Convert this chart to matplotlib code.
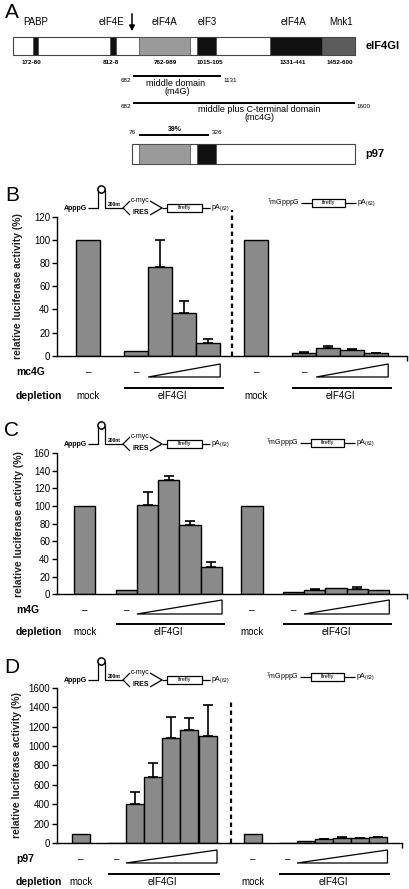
import matplotlib
matplotlib.use("Agg")
import matplotlib.pyplot as plt
from matplotlib.patches import Rectangle, Circle, Polygon
from matplotlib.transforms import blended_transform_factory
import numpy as np

plt.rcParams['font.family'] = ['Liberation Sans', 'DejaVu Sans']
plt.rcParams['mathtext.fontset'] = 'custom'
plt.rcParams['mathtext.rm'] = 'Liberation Sans'
plt.rcParams['mathtext.bf'] = 'Liberation Sans:bold'

W, H = 410, 889
GRAY = '#8a8a8a'

# ---- panel A: domain map ----
domain_names = ["PABP", "eIF4E", "eIF4A", "eIF3", "eIF4A", "Mnk1"]
domain_res = ["172-80", "812-8", "762-989", "1015-105", "1331-441", "1452-600"]

# ---- panel B: mc4G add-back ----
b_depl = ["mock", "eIF4GI", "mock", "eIF4GI"]
b_vals = [100, 4, 77, 37, 11, 100, 2.5, 7, 4.5, 2]
b_errtop = [0, 0, 100, 47, 14.5, 0, 3.2, 8.2, 5.5, 2.6]

# ---- panel C: m4G add-back ----
c_depl = ["mock", "eIF4GI", "mock", "eIF4GI"]
c_vals = [100, 5, 101, 129, 79, 31, 100, 3, 4.5, 7, 6.5, 4.5]
c_errtop = [0, 0, 116, 134, 83, 37, 0, 0, 5.6, 0, 8, 0]

# ---- panel D: p97 add-back ----
d_depl = ["mock", "eIF4GI", "mock", "eIF4GI"]
d_vals = [100, 5, 400, 680, 1085, 1160, 1100, 100, 2, 25, 40, 57, 55, 62]
d_errtop = [0, 0, 530, 830, 1300, 1290, 1420, 0, 0, 0, 45, 61, 58, 68]

fig = plt.figure(figsize=(W / 100, H / 100), dpi=100)
fig.patch.set_facecolor('white')

# overlay in pixel coords (y down) for schematic drawings and labels
ov = fig.add_axes([0, 0, 1, 1], zorder=5)
ov.set_xlim(0, W)
ov.set_ylim(H, 0)
ov.axis('off')
ov.patch.set_alpha(0)

LW = 0.9


def line(xs, ys, lw=LW, **kw):
    ov.plot(xs, ys, color='k', lw=lw, solid_capstyle='butt', **kw)


# ---------------- panel A ----------------
ov.text(12, 12.5, "A", fontsize=15, ha='center', va='center')
name_x = [36, 112, 165, 207, 294, 341]
res_x = [31, 111, 165, 210, 293, 340]
for nm, x in zip(domain_names, name_x):
    ov.text(x, 22, nm, fontsize=7, ha='center', va='center')
for rs, x in zip(domain_res, res_x):
    ov.text(x, 62, rs, fontsize=4.5, fontweight='bold', ha='center', va='center')

ov.add_patch(Rectangle((13, 37), 342, 18, fc='white', ec='#444444', lw=0.8))
for x0, x1, c in [(33, 38, '#111111'), (110, 116, '#111111'), (139, 190, '#9a9a9a'),
                  (197, 216, '#111111'), (270, 322, '#111111'), (322, 355, '#5c5c5c')]:
    ov.add_patch(Rectangle((x0, 37), x1 - x0, 18, fc=c, ec='#444444', lw=0.5))
ov.annotate('', xy=(132, 34), xytext=(132, 11),
            arrowprops=dict(arrowstyle='-|>', color='k', lw=1.1, mutation_scale=8))
ov.text(366, 46, "eIF4GI", fontsize=8, fontweight='bold', ha='left', va='center')

line([133, 221], [76, 76], lw=1.4)
ov.text(131, 80, "682", fontsize=4.5, ha='right', va='center')
ov.text(223, 80, "1131", fontsize=4.5, ha='left', va='center')
ov.text(176, 83, "middle domain", fontsize=6.5, ha='center', va='center')
ov.text(177, 91, "(m4G)", fontsize=6.5, ha='center', va='center')

line([133, 355], [103, 103], lw=1.4)
ov.text(131, 107, "682", fontsize=4.5, ha='right', va='center')
ov.text(356, 107, "1600", fontsize=4.5, ha='left', va='center')
ov.text(259, 110, "middle plus C-terminal domain", fontsize=6.5, ha='center', va='center')
ov.text(260, 118, "(mc4G)", fontsize=6.5, ha='center', va='center')

line([139, 209], [135, 135], lw=1.4)
ov.text(136, 132, "76", fontsize=4.5, ha='right', va='center')
ov.text(175, 129.5, "39%", fontsize=5, fontweight='bold', ha='center', va='center')
ov.text(212, 132, "326", fontsize=4.5, ha='left', va='center')

ov.add_patch(Rectangle((132, 144), 223, 20, fc='white', ec='#444444', lw=0.8))
ov.add_patch(Rectangle((139, 144), 51, 20, fc='#9a9a9a', ec='#444444', lw=0.5))
ov.add_patch(Rectangle((197, 144), 19, 20, fc='#111111', ec='#444444', lw=0.5))
ov.text(365, 154, "p97", fontsize=8, fontweight='bold', ha='left', va='center')


# ---------------- constructs ----------------
def ires_construct(x0, y0):
    ov.text(x0 - 1, y0, "ApppG", fontsize=5, fontweight='bold', ha='right', va='center')
    line([x0, x0 + 10, x0 + 10], [y0, y0, y0 - 18])
    ov.add_patch(Circle((x0 + 13.5, y0 - 18.5), 3.6, fill=False, lw=1.1))
    line([x0 + 17, x0 + 17, x0 + 35], [y0 - 18, y0, y0])
    ov.text(x0 + 26, y0 - 3.2, "200nt", fontsize=3.5, fontweight='bold', ha='center', va='center')
    line([x0 + 42, x0 + 35, x0 + 42], [y0 - 7, y0, y0 + 7])
    ov.text(x0 + 42.5, y0 - 7, "c-myc", fontsize=5, ha='left', va='center')
    ov.text(x0 + 53, y0 + 4.5, "IRES", fontsize=5, fontweight='bold', ha='center', va='center')
    line([x0 + 62, x0 + 74, x0 + 62], [y0 - 7, y0, y0 + 7])
    line([x0 + 74, x0 + 79], [y0, y0])
    ov.add_patch(Rectangle((x0 + 79, y0 - 4), 35, 7.5, fill=False, lw=0.9))
    ov.text(x0 + 96.5, y0 - 0.3, "firefly", fontsize=4, ha='center', va='center')
    line([x0 + 114, x0 + 122], [y0, y0])
    ov.text(x0 + 123, y0, r"pA$_{(62)}$", fontsize=5, ha='left', va='center')


def cap_construct(x1, y1):
    ov.text(x1, y1, r"$^{7}$mGpppG", fontsize=5, ha='right', va='center')
    line([x1 + 1, x1 + 12], [y1, y1])
    ov.add_patch(Rectangle((x1 + 12, y1 - 3.7), 33, 7.4, fill=False, lw=0.9))
    ov.text(x1 + 28.5, y1 - 0.3, "firefly", fontsize=4, ha='center', va='center')
    line([x1 + 45, x1 + 56], [y1, y1])
    ov.text(x1 + 57, y1, r"pA$_{(62)}$", fontsize=5, ha='left', va='center')


# ---------------- bar panels ----------------
def bar_panel(letter, letter_y, px, ymax, ystep, slot_w, slots, vals, errtop,
              row_name, depl, rows_y, sep_top=None, ylab_x=22):
    l, r, y0 = px
    ytop = y0 - ymax * slot_w[1]
    ax = fig.add_axes([l / W, 1 - y0 / H, (r - l) / W, (y0 - ytop) / H])
    xmax = (r - l) / slot_w[0]
    slots = np.array(slots)
    ax.bar(slots, vals, width=1.0, color=GRAY, edgecolor='k', linewidth=1.0, zorder=2)
    vals_a = np.array(vals, float)
    et = np.array(errtop, float)
    m = et > vals_a
    ax.errorbar(slots[m], vals_a[m], yerr=[np.zeros(m.sum()), et[m] - vals_a[m]],
                fmt='none', ecolor='k', elinewidth=1.2, capsize=3.6, capthick=1.2, zorder=3)
    ax.set_xlim(0, xmax)
    ax.set_ylim(0, ymax)
    ax.set_yticks(np.arange(0, ymax + 1, ystep))
    ax.set_xticks([xmax])
    ax.set_xticklabels([])
    for s in ['top', 'right']:
        ax.spines[s].set_visible(False)
    for s in ['left', 'bottom']:
        ax.spines[s].set_linewidth(1.0)
    ax.tick_params(axis='y', direction='out', length=3.5, width=1, labelsize=7, pad=1.5)
    ax.tick_params(axis='x', direction='out', length=3.5, width=1)
    ax.set_ylabel("relative luciferase activity (%)", fontsize=7.5, fontweight='bold',
                  color='#222222')
    ax.yaxis.set_label_coords((ylab_x - l) / (r - l), 0.5)
    ax.patch.set_alpha(0)

    ov.text(12, letter_y, letter, fontsize=15, ha='center', va='center')

    # separator between IRES and cap reporters
    n = (len(slots) - 2) // 2
    g1 = slots[1:2 + n - 1]
    g1 = slots[1:1 + n]
    g2 = slots[2 + n:]
    mock1, mock2 = slots[0], slots[1 + n]
    if sep_top is not None:
        xs = (g1[-1] + mock2) / 2
        ax.plot([xs, xs], [0, sep_top], color='k', lw=1.6, ls=(0, (2, 1.6)),
                clip_on=False, zorder=1)

    tr = blended_transform_factory(ax.transData, ov.transData)
    y_row, tri_bot, tri_top, y_line, y_dep = rows_y
    ov.text(16, y_row, row_name, fontsize=7.5, fontweight='bold', ha='left', va='center')
    ov.text(16, y_dep, "depletion", fontsize=7.5, fontweight='bold', ha='left', va='center')
    for x in [mock1, g1[0], mock2, g2[0]]:
        ov.text(x, y_row, "\u2013", fontsize=7, ha='center', va='center', transform=tr)
    for g in [g1, g2]:
        a, b = g[1] - 0.5, g[-1] + 0.5
        ov.add_patch(Polygon([[a, tri_bot], [b, tri_bot], [b, tri_top]], closed=True,
                             fill=False, ec='k', lw=0.9, transform=tr))
        ov.plot([g[0] - 0.45, g[-1] + 0.6], [y_line, y_line], color='k', lw=1.4,
                transform=tr)
    for x, lab in zip([mock1, g1.mean(), mock2, g2.mean()], depl):
        ov.text(x, y_dep, lab, fontsize=7, ha='center', va='center', transform=tr)
    return ax


# B
ires_construct(88, 208)
cap_construct(300, 203)
bar_panel("B", 195.5, (57, 407, 355.7), 120, 20, (24, 1.157),
          [1.3, 3.3, 4.3, 5.3, 6.3, 8.3, 10.3, 11.3, 12.3, 13.3],
          b_vals, b_errtop, "mc4G", b_depl, (372, 377, 364, 388, 396),
          sep_top=126, ylab_x=23)

# C
ires_construct(88, 444)
cap_construct(299, 443)
bar_panel("C", 430.5, (57, 407, 594.3), 160, 20, (21.3, 0.883),
          [1.3, 3.25, 4.25, 5.25, 6.25, 7.25, 9.15, 11.1, 12.1, 13.1, 14.1, 15.1],
          c_vals, c_errtop, "m4G", c_depl, (610, 614, 600, 624, 632), ylab_x=24)

# D
ires_construct(88, 680)
cap_construct(299, 677)
bar_panel("D", 667.5, (57, 402, 843.3), 1600, 200, (18, 0.0973),
          [1.33, 3.33, 4.33, 5.33, 6.33, 7.36, 8.39, 10.89, 12.83, 13.83, 14.83, 15.86,
           16.86, 17.86],
          d_vals, d_errtop, "p97", d_depl, (859, 863, 850, 874, 882),
          sep_top=1470, ylab_x=21.5)

fig.savefig("out.png", dpi=100)
